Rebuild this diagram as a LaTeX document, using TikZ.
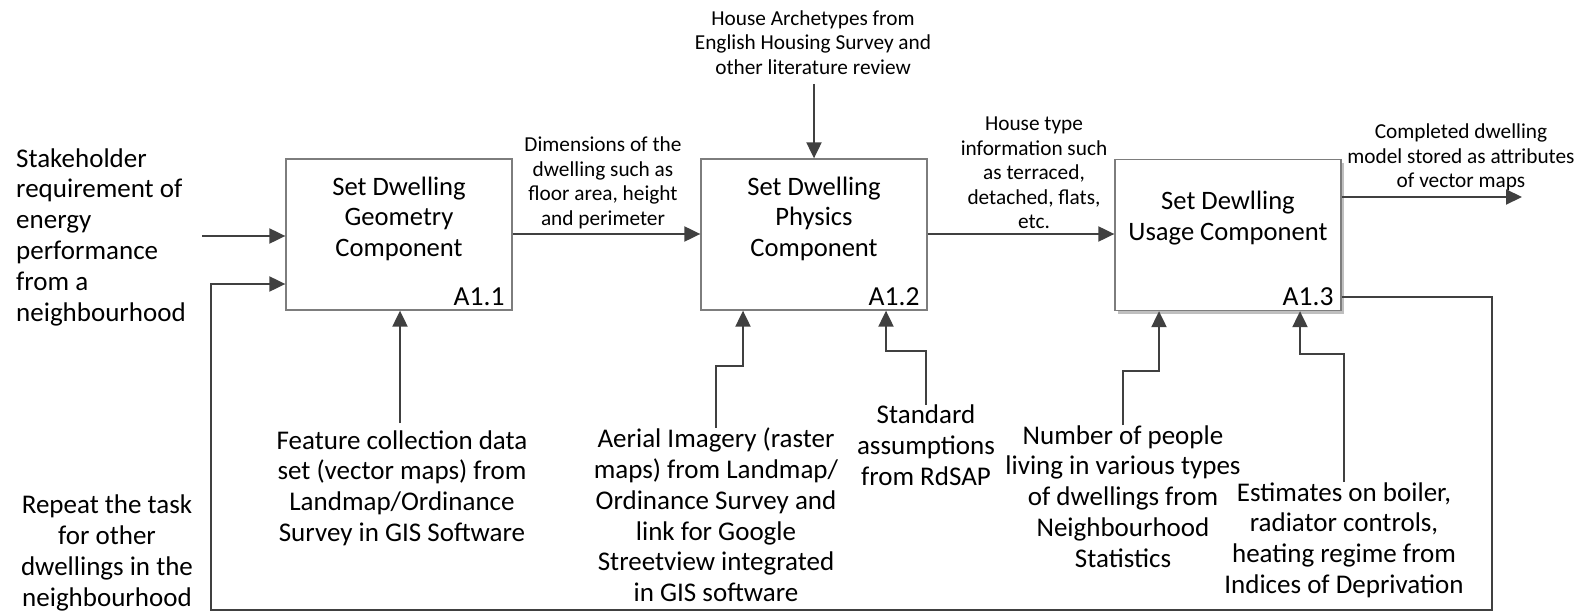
\documentclass[tikz,border=0pt]{standalone}
\usepackage{fontspec}
\setmainfont{Carlito}
\usetikzlibrary{arrows.meta,shadows,calc}
\definecolor{linegray}{RGB}{64,64,64}
\definecolor{boxgray}{RGB}{125,125,125}
\begin{document}
\begin{tikzpicture}[x=1pt,y=-1pt,
  proc/.style={draw=boxgray,line width=1.3pt,fill=white,minimum width=226pt,minimum height=151pt,inner sep=0pt},
  proctext/.style={align=center,inner sep=0pt,font=\fontsize{26.6}{30.5}\selectfont},
  procid/.style={anchor=east,inner sep=0pt,font=\fontsize{27.5}{30}\selectfont},
  bigtext/.style={align=center,inner sep=0pt,font=\fontsize{27}{30.8}\selectfont},
  smalltext/.style={align=center,inner sep=0pt,font=\fontsize{21.3}{24.5}\selectfont},
  arr/.style={draw=linegray,line width=2pt,-{Triangle[length=16pt,width=15pt]}}]
\useasboundingbox (0,0) rectangle (1587,615);

% activity boxes
\node[proc] (b1) at (399,234.5) {};
\node[proc] (b2) at (814,234.5) {};
\node[proc,drop shadow={shadow xshift=3pt,shadow yshift=-3pt,fill=black!25,opacity=1}] (b3) at (1228,235) {};

\node[proctext] (t1) at (399,218.5) {Set Dwelling\\Geometry\\Component};
\node[proctext] (t2) at (814,218.5) {Set Dwelling\\Physics\\Component};
\node[proctext] (t3) at (1228,218) {Set Dewlling\\Usage Component};

\node[procid] (id1) at ($(b1.south east)+(-8,-14)$) {A1.1};
\node[procid] (id2) at ($(b2.south east)+(-8,-14)$) {A1.2};
\node[procid] (id3) at ($(b3.south east)+(-8,-14)$) {A1.3};

% inputs and outputs
\node[bigtext,align=left,anchor=west] (stake) at (16,237)
  {Stakeholder\\requirement of\\energy\\performance\\from a\\neighbourhood};
\node[bigtext] (repeat) at (107,553) {Repeat the task\\for other\\dwellings in the\\neighbourhood};
\node[smalltext] (dims) at (603,183) {Dimensions of the\\dwelling such as\\floor area, height\\and perimeter};
\node[smalltext] (arch) at (813,42.5) {House Archetypes from\\English Housing Survey and\\other literature review};
\node[smalltext] (htype) at (1034,173) {House type\\information such\\as terraced,\\detached, flats,\\etc.};
\node[smalltext] (done) at (1461,157.5) {Completed dwelling\\model stored as attributes\\of vector maps};

% mechanisms and controls
\node[bigtext] (feat) at (402,488) {Feature collection data\\set (vector maps) from\\Landmap/Ordinance\\Survey in GIS Software};
\node[bigtext] (aer) at (716,515) {Aerial Imagery (raster\\maps) from Landmap/\\Ordinance Survey and\\link for Google\\Streetview integrated\\in GIS software};
\node[bigtext] (std) at (926,445) {Standard\\assumptions\\from RdSAP};
\node[bigtext] (num) at (1123,496.5) {Number of people\\living in various types\\of dwellings from\\Neighbourhood\\Statistics};
\node[bigtext] (est) at (1344,540) {Estimates on boiler,\\radiator controls,\\heating regime from\\Indices of Deprivation};

% bend points and free ends
\coordinate (in1) at (202,236);
\coordinate (in2) at (211,284);
\coordinate (fbA) at (1492,297);
\coordinate (fbB) at (1492,610);
\coordinate (fbC) at (211,610);
\coordinate (archEnd) at (814,84);
\coordinate (outEnd) at (1522,197);
\coordinate (k2a) at (743,366);
\coordinate (k2b) at (886,351);
\coordinate (k3a) at (1159,371);
\coordinate (k3b) at (1300,354);

% connectors
\draw[arr] (in1) -- (in1 -| b1.west);
\draw[arr] (fbA -| b3.east) -- (fbA) -- (fbB) -- (fbC) -- (in2) -- (in2 -| b1.west);
\draw[arr] (b1.east |- 0,234) -- (b2.west |- 0,234);
\draw[arr] (b2.east |- 0,234) -- (b3.west |- 0,234);
\draw[arr] (b3.east |- outEnd) -- (outEnd);
\draw[arr] (archEnd) -- (b2.north);
\draw[arr] (400,423) -- (400,0 |- b1.south);
\draw[arr] (aer.north) |- (k2a) -- (k2a |- b2.south);
\draw[arr] (std.north) |- (k2b) -- (k2b |- b2.south);
\draw[arr] (num.north) |- (k3a) -- (k3a |- b3.south);
\draw[arr] (est.north) |- (k3b) -- (k3b |- b3.south);
\end{tikzpicture}
\end{document}
